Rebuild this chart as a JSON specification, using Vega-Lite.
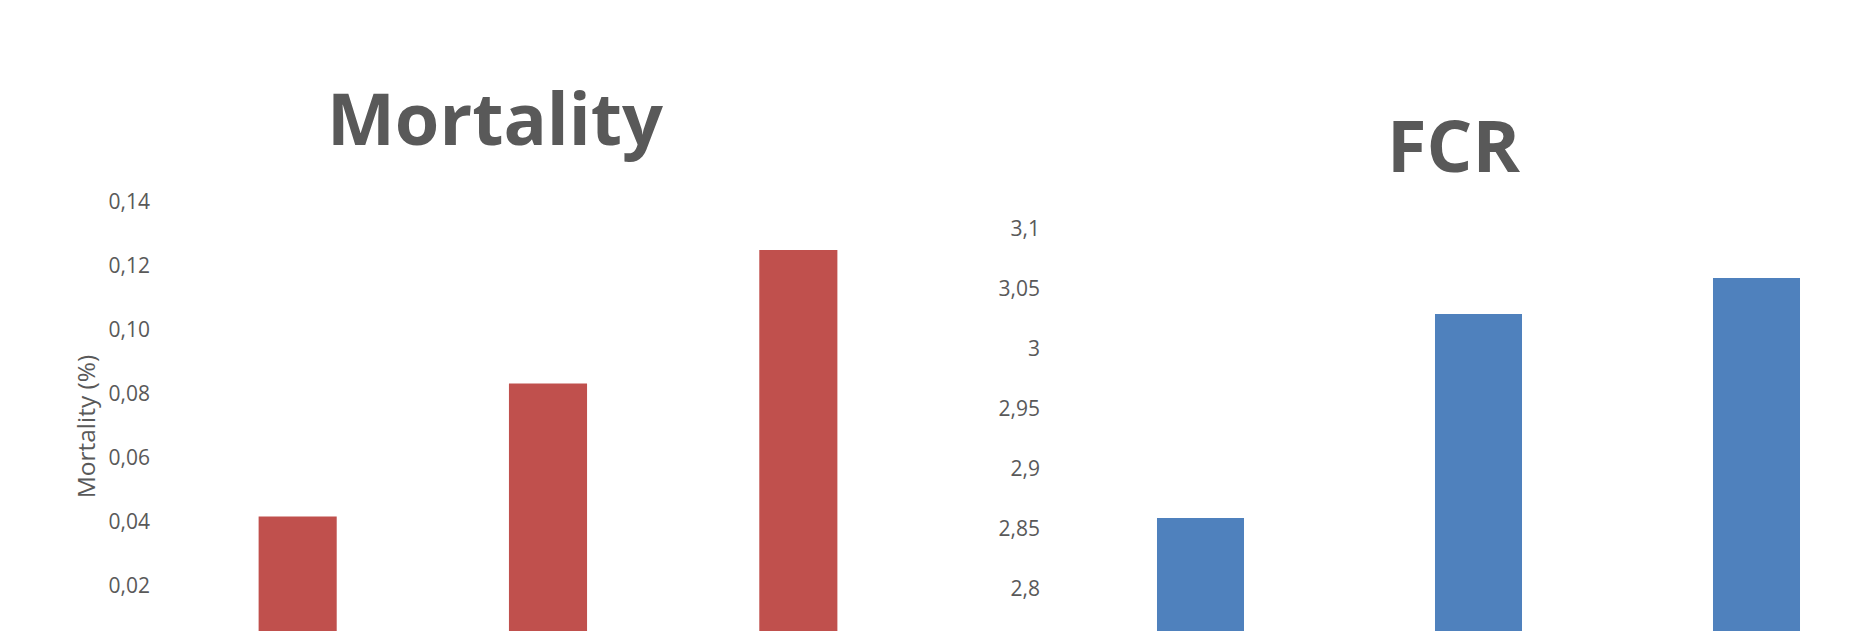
{
  "$schema": "https://vega.github.io/schema/vega-lite/v6.json",
  "background": "#ffffff",
  "padding": {"left": 73.5, "top": 87, "right": 0, "bottom": 0},
  "bounds": "flush",
  "spacing": 138,
  "config": {
    "view": {"stroke": null},
    "font": "Open Sans",
    "axis": {
      "domain": false,
      "ticks": false,
      "grid": false,
      "labelFont": "Open Sans",
      "labelFontSize": 21,
      "labelColor": "#595959",
      "titleFont": "Open Sans",
      "titleFontSize": 24.5,
      "titleFontWeight": "normal",
      "titleColor": "#595959"
    },
    "title": {
      "font": "Open Sans",
      "fontSize": 72,
      "fontWeight": "bold",
      "color": "#595959",
      "baseline": "alphabetic",
      "anchor": "middle"
    }
  },
  "datasets": {
    "mortality": [
      {"group": "T1", "value": 0.0417},
      {"group": "T2", "value": 0.0833},
      {"group": "T3", "value": 0.125}
    ],
    "fcr": [
      {"group": "T1", "value": 2.86},
      {"group": "T2", "value": 3.03},
      {"group": "T3", "value": 3.06}
    ]
  },
  "hconcat": [
    {
      "width": 751,
      "height": 448,
      "title": {"text": "Mortality", "offset": 31, "dx": -53},
      "data": {"name": "mortality"},
      "mark": {"type": "bar", "color": "#C0504D"},
      "encoding": {
        "x": {
          "field": "group",
          "type": "nominal",
          "sort": null,
          "axis": null,
          "scale": {"paddingInner": 0.688, "paddingOuter": 0.344}
        },
        "y": {
          "field": "value",
          "type": "quantitative",
          "scale": {"domain": [0, 0.14], "nice": false},
          "axis": {
            "title": "Mortality (%)",
            "values": [0.02, 0.04, 0.06, 0.08, 0.1, 0.12, 0.14],
            "labelExpr": "replace(format(datum.value, '.2f'), '.', ',')",
            "labelPadding": 23,
            "titlePadding": 9
          }
        }
      }
    },
    {
      "width": 834,
      "height": 448,
      "title": {"text": "FCR", "offset": 15, "dx": -25},
      "data": {"name": "fcr"},
      "mark": {"type": "bar", "color": "#4F81BD"},
      "encoding": {
        "x": {
          "field": "group",
          "type": "nominal",
          "sort": null,
          "axis": null,
          "scale": {"paddingInner": 0.687, "paddingOuter": 0.3435}
        },
        "y": {
          "field": "value",
          "type": "quantitative",
          "scale": {"domain": [2.75, 3.1233], "nice": false, "zero": false},
          "axis": {
            "title": null,
            "values": [2.8, 2.85, 2.9, 2.95, 3, 3.05, 3.1],
            "labelExpr": "replace(format(datum.value, '.2~f'), '.', ',')",
            "labelPadding": 22
          }
        }
      }
    }
  ]
}
